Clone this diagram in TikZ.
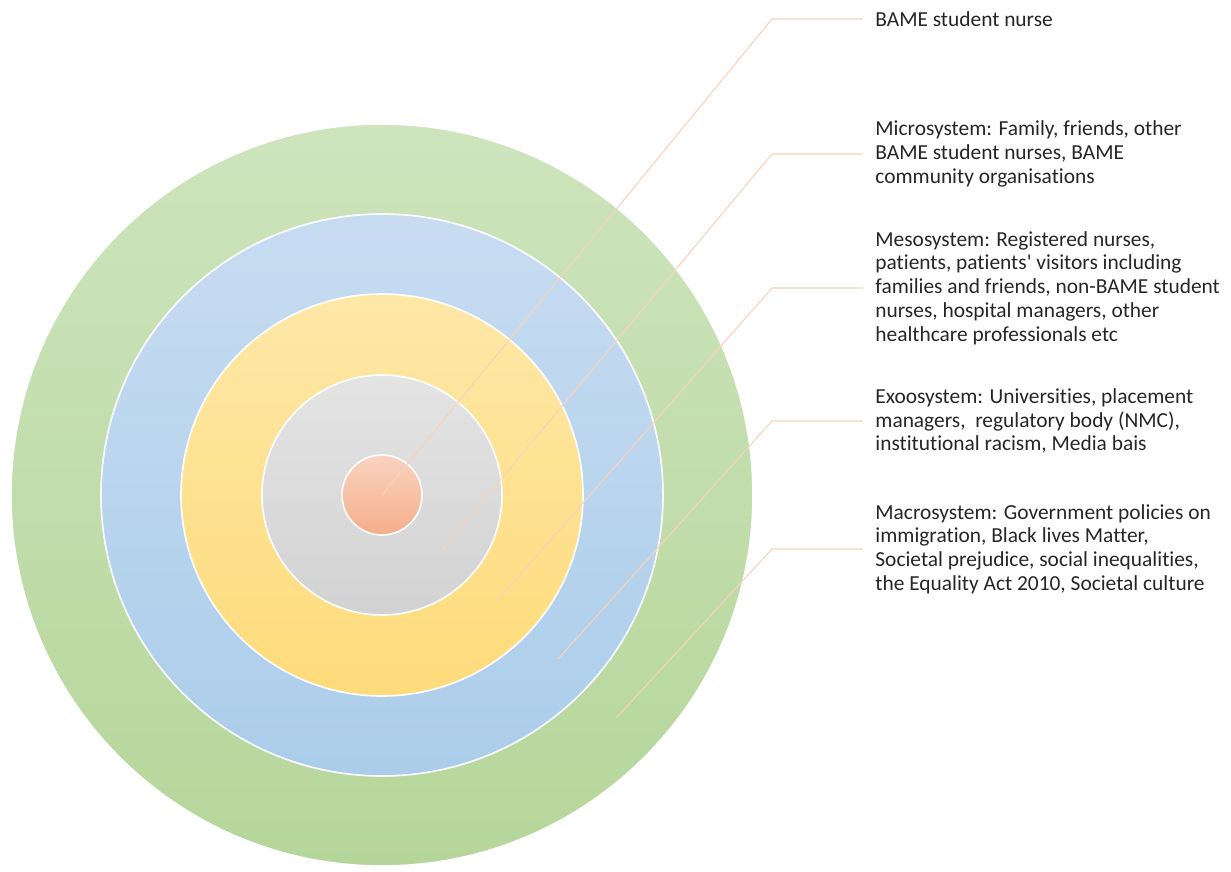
\documentclass[tikz,border=0pt]{standalone}
\usepackage{fontspec}
\setmainfont{Carlito}[Ligatures=CommonOff]
\usetikzlibrary{positioning}

\definecolor{greentop}{HTML}{CEE4BD}
\definecolor{greenbot}{HTML}{B5D69A}
\definecolor{bluetop}{HTML}{C7DCF1}
\definecolor{bluebot}{HTML}{ABCDEA}
\definecolor{yellowtop}{HTML}{FEE8A8}
\definecolor{yellowbot}{HTML}{FEDB7A}
\definecolor{greytop}{HTML}{E4E4E4}
\definecolor{greybot}{HTML}{D2D2D2}
\definecolor{orangetop}{HTML}{F9D3BF}
\definecolor{orangebot}{HTML}{F5AE8A}
\definecolor{leadc}{HTML}{F8D2BC}
\definecolor{txt}{HTML}{262626}

\tikzset{
  ring/.style={circle, draw=white, line width=0.8pt, inner sep=0pt, minimum size=#1},
  leader/.style={draw=leadc, line width=0.55pt},
  caption/.style={anchor=west, align=left, inner xsep=6pt, text=txt,
    font=\fontsize{10.7}{11.9}\selectfont},
}

\begin{document}
\begin{tikzpicture}[x=0.5pt,y=-0.5pt]
  \useasboundingbox (0,0) rectangle (1231,872);
  % rings, outermost first
  \node[ring=371pt, shade, top color=greentop, bottom color=greenbot] (macro) at (382,495) {};
  \node[ring=281pt, shade, top color=bluetop, bottom color=bluebot] (exo) at (382,495) {};
  \node[ring=201pt, shade, top color=yellowtop, bottom color=yellowbot] (meso) at (382,495) {};
  \node[ring=120pt, shade, top color=greytop, bottom color=greybot] (micro) at (382,495) {};
  \node[ring=40pt, shade, top color=orangetop, bottom color=orangebot] (self) at (382,495) {};

  % where the leaders start
  \coordinate (s1) at (382,495);
  \coordinate (s2) at (442,550);
  \coordinate (s3) at (496,602);
  \coordinate (s4) at (558,659);
  \coordinate (s5) at (617,717);

  % knees of the leaders
  \coordinate (k1) at (772,19);
  \coordinate (k2) at (772,154);
  \coordinate (k3) at (772,288);
  \coordinate (k4) at (772,421);
  \coordinate (k5) at (772,549);

  \node[caption] (t1) at (863,19) {BAME student nurse};
  \node[caption] (t2) at (863,154) {Microsystem: Family, friends, other\\BAME student nurses, BAME\\community organisations};
  \node[caption] (t3) at (863,288) {Mesosystem: Registered nurses,\\patients, patients\textquotesingle\ visitors including\\families and friends, non-BAME student\\nurses, hospital managers, other\\healthcare professionals etc};
  \node[caption] (t4) at (863,421) {Exoosystem: Universities, placement\\managers,\ \ regulatory body (NMC),\\institutional racism, Media bais};
  \node[caption] (t5) at (863,549) {Macrosystem: Government policies on\\immigration, Black lives Matter,\\Societal prejudice, social inequalities,\\the Equality Act 2010, Societal culture};

  \foreach \i in {1,...,5}
    \draw[leader] (s\i) -- (k\i) -- (t\i.west);
\end{tikzpicture}
\end{document}
